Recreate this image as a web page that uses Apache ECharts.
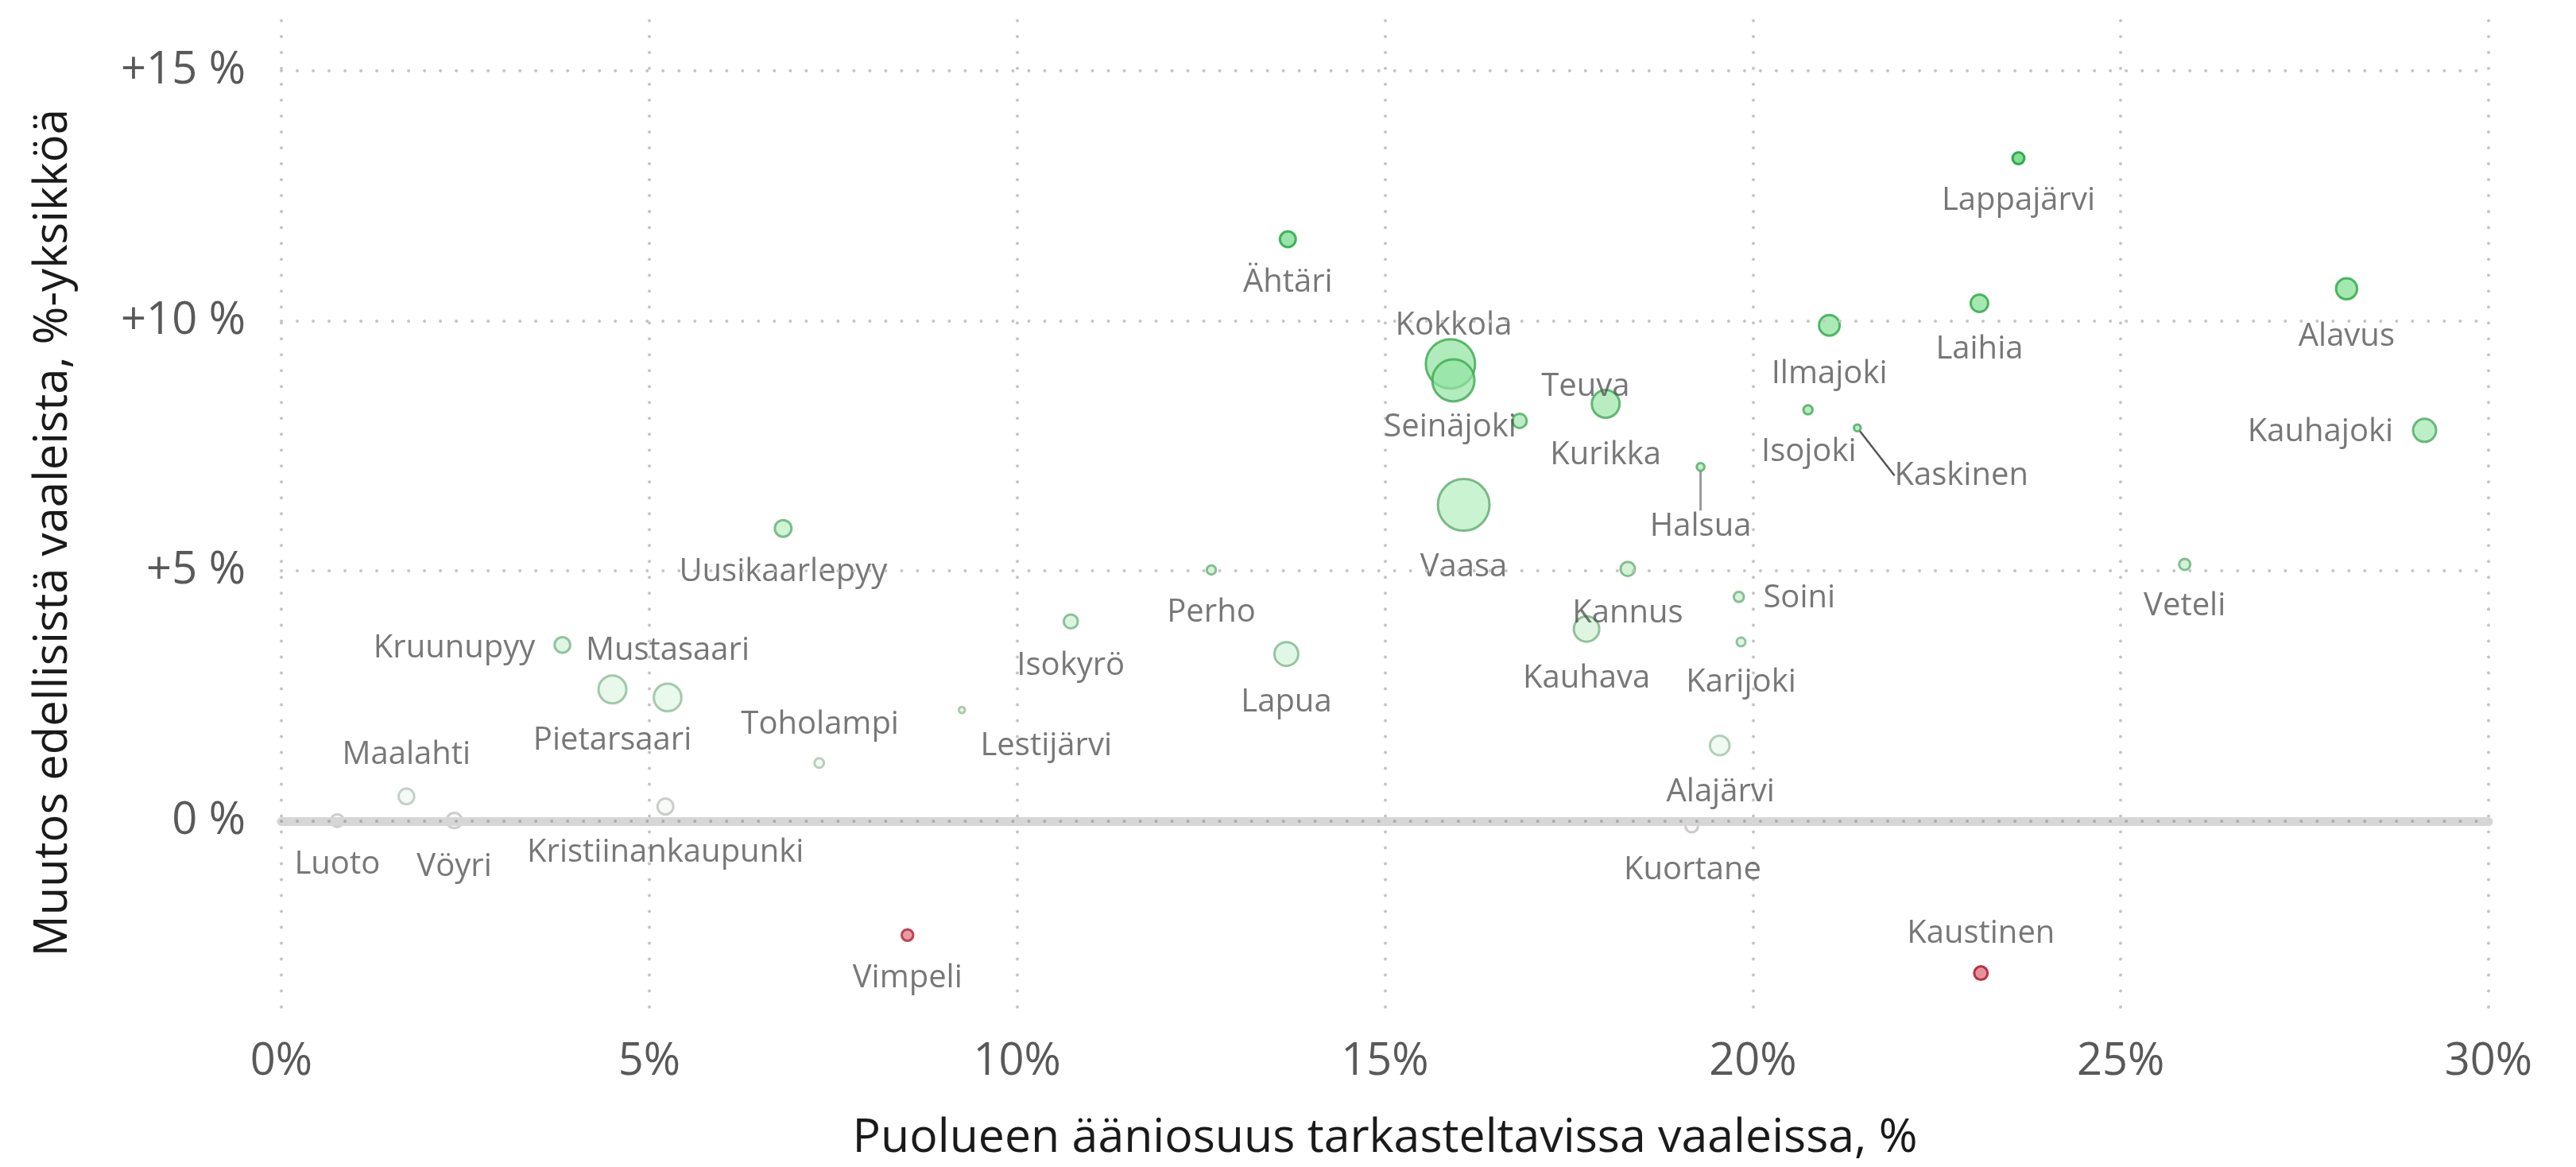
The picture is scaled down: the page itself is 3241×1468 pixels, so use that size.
<!DOCTYPE html>
<html>
<head>
<meta charset="utf-8">
<script src="https://cdn.jsdelivr.net/npm/echarts@6/dist/echarts.min.js"></script>
<style>
html,body{margin:0;padding:0;background:#ffffff;}
#chart{width:3241px;height:1468px;}
</style>
</head>
<body>
<div id="chart"></div>
<script>
// ---- data ----
const kunnat = ['Luoto','Maalahti','Vöyri','Kruunupyy','Pietarsaari','Mustasaari','Kristiinankaupunki','Uusikaarlepyy','Toholampi','Vimpeli','Lestijärvi','Isokyrö','Perho','Ähtäri','Lapua','Kokkola','Seinäjoki','Vaasa','Teuva','Kauhava','Kurikka','Kannus','Kuortane','Halsua','Alajärvi','Soini','Karijoki','Isojoki','Ilmajoki','Kaskinen','Laihia','Kaustinen','Lappajärvi','Veteli','Alavus','Kauhajoki'];
const aaniosuus = [0.76,1.70,2.35,3.82,4.50,5.25,5.22,6.82,7.31,8.51,9.25,10.73,12.64,13.68,13.66,15.89,15.93,16.07,16.83,17.74,18.00,18.30,19.17,19.29,19.55,19.81,19.84,20.75,21.04,21.42,23.08,23.10,23.61,25.87,28.07,29.13];
const muutos = [0.01,0.49,0.01,3.52,2.63,2.47,0.29,5.85,1.16,-2.28,2.22,3.99,5.02,11.63,3.34,9.14,8.81,6.32,8.00,3.84,8.34,5.04,-0.10,7.08,1.51,4.48,3.58,8.22,9.91,7.86,10.35,-3.04,13.25,5.13,10.64,7.81];
const koko = [19,22.7,22.3,22.7,38,37.7,23,24,15,17.6,10.7,20.7,14.5,23,33,65,56,68,21,35,38,21,19,12.7,27.6,15.7,14,14.6,29,11.6,25,20,18,17,29.5,32];
const xTicks = [0,5,10,15,20,25,30];
const yTicks = [0,5,10,15];

// ---- layout / style (not data) ----
const labelOffsets = {
  'Kokkola':[4,-48],'Seinäjoki':[-4,59],'Teuva':[83,-43],'Kurikka':[0,65],'Ähtäri':[0,55],'Vaasa':[0,78],
  'Halsua':[0,75],'Perho':[0,54],'Kannus':[0,56],'Kauhava':[0,62],'Lapua':[0,61],'Isokyrö':[0,56],
  'Lestijärvi':[106,46],'Toholampi':[1,-48],'Vimpeli':[0,54],'Kuortane':[1,56],'Alajärvi':[1,59],
  'Soini':[76,2],'Karijoki':[0,51],'Veteli':[0,53],'Kaustinen':[0,-49],'Kaskinen':[131,60],
  'Isojoki':[1,53],'Ilmajoki':[0,61],'Laihia':[0,58],'Lappajärvi':[0,54],'Alavus':[0,60],
  'Kauhajoki':[-131,2],'Uusikaarlepyy':[0,55],'Kruunupyy':[-136,4],'Mustasaari':[0,-59],
  'Pietarsaari':[0,64],'Maalahti':[0,-52],'Luoto':[0,55],'Vöyri':[0,58],'Kristiinankaupunki':[0,58]
};
const leaderLines = {'Halsua':'#9a9a9a','Kaskinen':'#555555'};

const colorStops = [
  [-3.1,[224,96,112],[160,16,32]],
  [-2.2,[226,110,124],[176,40,56]],
  [-0.5,[245,225,230],[200,170,178]],
  [0,[248,248,248],[192,192,192]],
  [0.5,[240,250,240],[184,196,186]],
  [2.5,[224,246,228],[144,189,154]],
  [3.5,[210,242,216],[124,180,137]],
  [5,[192,238,200],[106,175,120]],
  [6.3,[179,240,189],[94,170,110]],
  [7.8,[160,232,173],[74,168,96]],
  [9,[144,227,160],[58,168,79]],
  [10.5,[125,223,142],[42,163,69]],
  [11.6,[108,216,132],[34,160,64]],
  [13.3,[80,208,104],[10,154,42]]
];
function scaleColor(v, idx){
  if (v <= colorStops[0][0]) return colorStops[0][idx];
  for (let i=1;i<colorStops.length;i++){
    const a = colorStops[i-1], b = colorStops[i];
    if (v <= b[0]) {
      const t = (v - a[0])/(b[0]-a[0]);
      return a[idx].map((c,k)=>Math.round(c + (b[idx][k]-c)*t));
    }
  }
  return colorStops[colorStops.length-1][idx];
}
const rgb = (c, a) => a==null ? `rgb(${c[0]},${c[1]},${c[2]})` : `rgba(${c[0]},${c[1]},${c[2]},${a})`;

const FONT = "'Open Sans', 'Noto Sans', sans-serif";

const points = kunnat.map((n,i)=>{
  const item = {
    name: n,
    value: [aaniosuus[i], muutos[i], koko[i]],
    itemStyle: {
      color: rgb(scaleColor(muutos[i],1), 0.88),
      borderColor: rgb(scaleColor(muutos[i],2))
    }
  };
  if (leaderLines[n]) {
    item.labelLine = {show: true, lineStyle: {color: leaderLines[n], width: n==='Halsua'?3:2.5}};
  }
  return item;
});

const gridDot = {color:'#c4c4c4', width:4, type:[0.01,20], cap:'round'};

const chart = echarts.init(document.getElementById('chart'), null, {renderer:'canvas'});
chart.setOption({
  animation: false,
  backgroundColor: '#ffffff',
  grid: {left: 354, right: 110, top: 26, bottom: 183.5, containLabel: false},
  xAxis: {
    type: 'value', min: xTicks[0], max: xTicks[xTicks.length-1], interval: 5,
    axisLine: {show:false}, axisTick: {show:false},
    axisLabel: {formatter: v => v + '%', fontSize: 56, color: '#595959', fontFamily: FONT, margin: 24},
    splitLine: {show: true, lineStyle: gridDot},
    name: 'Puolueen ääniosuus tarkasteltavissa vaaleissa, %',
    nameLocation: 'middle', nameGap: 118,
    nameTextStyle: {fontSize: 59, color: '#1a1a1a', fontFamily: FONT}
  },
  yAxis: {
    type: 'value', min: -4, max: 16, interval: 1,
    axisLine: {show:false}, axisTick: {show:false},
    axisLabel: {
      formatter: v => yTicks.includes(v) ? (v>0?'+':'') + v + ' %' : '',
      fontSize: 56, color: '#595959', fontFamily: FONT, margin: 45
    },
    splitLine: {show: false},
    name: 'Muutos edellisistä vaaleista, %-yksikköä',
    nameLocation: 'middle', nameRotate: 90, nameGap: 258,
    nameTextStyle: {fontSize: 58, color: '#1a1a1a', fontFamily: FONT, padding: [0, 30, 0, 0]}
  },
  series: [
    {
      type: 'scatter', data: [], z: 1, silent: true,
      markLine: {
        silent: true, symbol: 'none', label: {show:false}, animation: false,
        emphasis: {disabled: true},
        data: [
          {yAxis: 0, lineStyle: {color:'#d6d6d6', width: 11, type:'solid', cap:'round'}},
          {yAxis: 0, lineStyle: {color:'#ababab', width: 4, type:[0.01,20], cap:'round'}}
        ].concat(yTicks.filter(v=>v!==0).map(v=>({yAxis: v, lineStyle: gridDot})))
      }
    },
    {
      type: 'scatter', z: 3,
      data: points,
      symbolSize: d => d[2] - 3,
      itemStyle: {borderWidth: 3},
      label: {
        show: true, position: 'inside', formatter: p => p.name,
        fontSize: 40, color: '#555555', fontFamily: FONT,
        align: 'center', verticalAlign: 'middle'
      },
      labelLine: {show: false},
      labelLayout: p => {
        const o = labelOffsets[kunnat[p.dataIndex]] || [0,0];
        return {dx: o[0], dy: o[1]};
      },
      emphasis: {disabled: true}
    }
  ]
});
</script>
</body>
</html>
